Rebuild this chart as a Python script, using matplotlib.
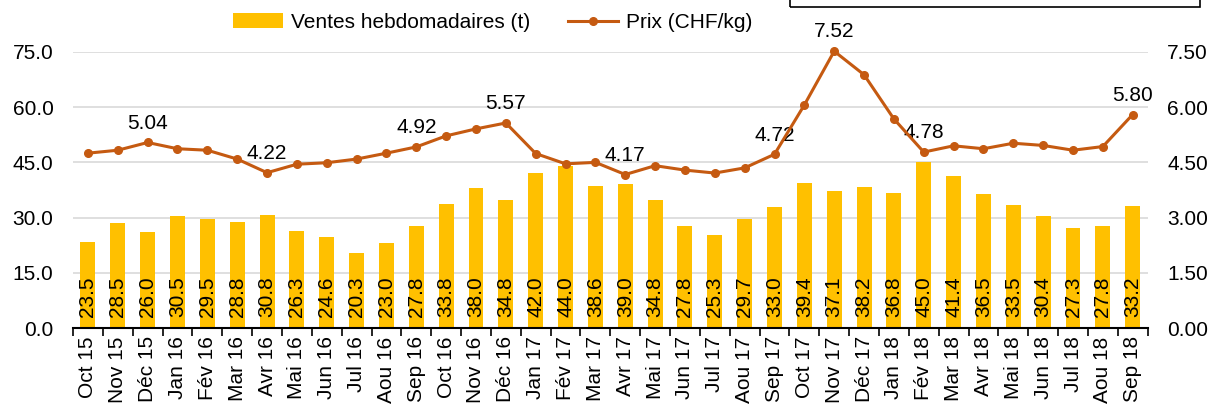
import numpy as np
import matplotlib
matplotlib.use("Agg")
import matplotlib.pyplot as plt
from matplotlib.patches import Rectangle

plt.rcParams['font.family'] = ['Liberation Sans', 'DejaVu Sans']

# données
mois = ["Oct 15", "Nov 15", "Déc 15", "Jan 16", "Fév 16", "Mar 16", "Avr 16", "Mai 16",
        "Jun 16", "Jul 16", "Aou 16", "Sep 16", "Oct 16", "Nov 16", "Déc 16", "Jan 17",
        "Fév 17", "Mar 17", "Avr 17", "Mai 17", "Jun 17", "Jul 17", "Aou 17", "Sep 17",
        "Oct 17", "Nov 17", "Déc 17", "Jan 18", "Fév 18", "Mar 18", "Avr 18", "Mai 18",
        "Jun 18", "Jul 18", "Aou 18", "Sep 18"]
ventes = [23.5, 28.5, 26.0, 30.5, 29.5, 28.8, 30.8, 26.3, 24.6, 20.3, 23.0, 27.8,
          33.8, 38.0, 34.8, 42.0, 44.0, 38.6, 39.0, 34.8, 27.8, 25.3, 29.7, 33.0,
          39.4, 37.1, 38.2, 36.8, 45.0, 41.4, 36.5, 33.5, 30.4, 27.3, 27.8, 33.2]
prix = [4.75, 4.83, 5.04, 4.87, 4.83, 4.59, 4.22, 4.45, 4.49, 4.59, 4.75, 4.92,
        5.22, 5.41, 5.57, 4.74, 4.46, 4.50, 4.17, 4.41, 4.29, 4.21, 4.35, 4.72,
        6.06, 7.52, 6.88, 5.68, 4.78, 4.95, 4.87, 5.02, 4.96, 4.83, 4.93, 5.80]
prix_etiquettes = ["Déc 15", "Avr 16", "Sep 16", "Déc 16", "Avr 17", "Sep 17",
                   "Nov 17", "Fév 18", "Sep 18"]

jaune = '#FFC000'
orange = '#C55A11'
fs = 15

fig = plt.figure(figsize=(12.17, 4.09), dpi=100)
ax = fig.add_axes([0.060, 0.198, 0.883, 0.675])
ax2 = ax.twinx()

x = np.arange(len(mois))
ax.bar(x, ventes, width=0.5, color=jaune, zorder=2, label="Ventes hebdomadaires (t)")
for xi, v in zip(x, ventes):
    ax.annotate(f"{v:.1f}", (xi, 0), xytext=(0, 8), textcoords='offset points',
                rotation=90, ha='center', va='bottom', fontsize=fs, color='black', zorder=3)

ax.set_xlim(-0.5, len(mois) - 0.5)
ax.set_ylim(0, 75)
ax.set_yticks(np.arange(0, 76, 15))
ax.set_yticklabels([f"{t:.1f}" for t in np.arange(0, 76, 15)], fontsize=fs)
ax.yaxis.grid(True, color='#D9D9D9', linewidth=1.2, zorder=0)
ax.set_axisbelow(True)
ax.set_xticks(x)
ax.set_xticklabels(mois, rotation=90, fontsize=fs)
ax.set_xticks(np.arange(-0.5, len(mois), 1), minor=True)
ax.tick_params(axis='x', which='major', length=0, pad=6)
ax.tick_params(axis='x', which='minor', length=6, width=1.2, direction='out')
ax.tick_params(axis='y', length=0, pad=14)
for s in ['top', 'left', 'right']:
    ax.spines[s].set_visible(False)
ax.spines['bottom'].set_linewidth(1.5)

ax2.plot(x, prix, color=orange, linewidth=2.2, marker='o', markersize=5.5,
         label="Prix (CHF/kg)", zorder=4, clip_on=False)
for m in prix_etiquettes:
    i = mois.index(m)
    ax2.annotate(f"{prix[i]:.2f}", (x[i], prix[i]), xytext=(0, 7), textcoords='offset points',
                 ha='center', va='bottom', fontsize=fs, annotation_clip=False)
ax2.set_ylim(0, 7.5)
ax2.set_yticks(np.arange(0, 7.6, 1.5))
ax2.set_yticklabels([f"{t:.2f}" for t in np.arange(0, 7.6, 1.5)], fontsize=fs)
ax2.tick_params(axis='y', length=0, pad=14)
for s in ['top', 'left', 'right', 'bottom']:
    ax2.spines[s].set_visible(False)

h1, l1 = ax.get_legend_handles_labels()
h2, l2 = ax2.get_legend_handles_labels()
fig.legend(h1 + h2, l1 + l2, loc='center', bbox_to_anchor=(0.405, 0.945), ncol=2,
           frameon=False, fontsize=fs, handlelength=2.4, handletextpad=0.4,
           columnspacing=1.8)

# cadre en haut à droite
fig.patches.append(Rectangle((790 / 1217, 1 - 7 / 409), 410 / 1217, 0.05,
                             transform=fig.transFigure, fill=False,
                             edgecolor='black', linewidth=1.2))

fig.savefig("out.png", dpi=100)
